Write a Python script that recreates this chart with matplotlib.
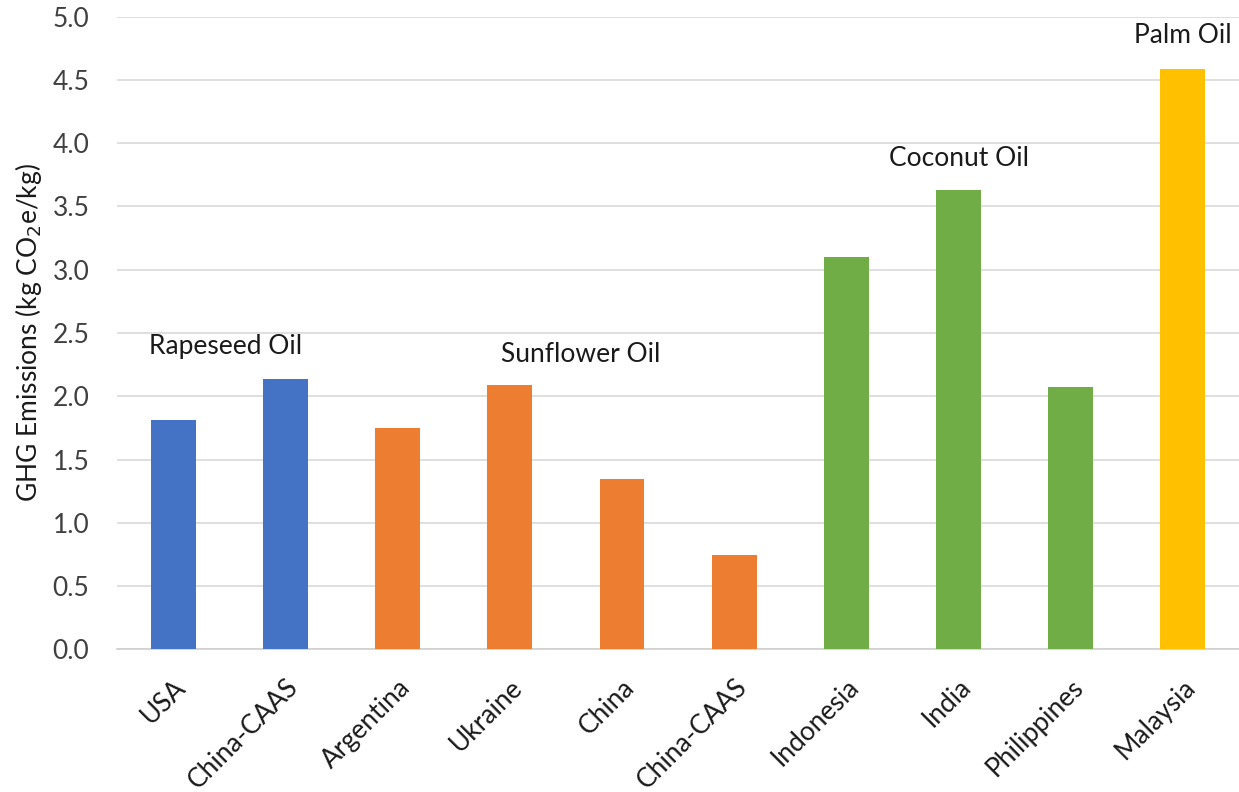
import matplotlib
matplotlib.use('Agg')
import matplotlib.pyplot as plt
import numpy as np

plt.rcParams['font.family'] = ['Lato', 'DejaVu Sans']

# Data
countries = ['USA', 'China-CAAS', 'Argentina', 'Ukraine', 'China', 'China-CAAS',
             'Indonesia', 'India', 'Philippines', 'Malaysia']
emissions = [1.81, 2.14, 1.75, 2.09, 1.35, 0.75, 3.10, 3.63, 2.07, 4.59]
oil_type = ['Rapeseed', 'Rapeseed', 'Sunflower', 'Sunflower', 'Sunflower', 'Sunflower',
            'Coconut', 'Coconut', 'Coconut', 'Palm']
oil_colors = {'Rapeseed': '#4472C4', 'Sunflower': '#ED7D31',
              'Coconut': '#70AD47', 'Palm': '#FFC000'}

group_labels = ['Rapeseed Oil', 'Sunflower Oil', 'Coconut Oil', 'Palm Oil']
group_label_x = [0.47, 3.63, 7.0, 9.0]
group_label_y = [2.39, 2.33, 3.88, 4.85]

fig = plt.figure(figsize=(12.39, 7.92), dpi=100)
ax = fig.add_axes([0.0945, 0.18, 0.9055, 0.799])

x = np.arange(len(countries))
ax.bar(x, emissions, width=0.4, color=[oil_colors[t] for t in oil_type], zorder=3)

for lab, lx, ly in zip(group_labels, group_label_x, group_label_y):
    ax.text(lx, ly, lab, ha='center', va='center', fontsize=19, color='#1a1a1a')

ax.set_xlim(-0.5, len(countries) - 0.5)
ax.set_ylim(0, 5.0)
ax.set_yticks(np.arange(0, 5.01, 0.5))
ax.set_yticklabels([f'{v:.1f}' for v in np.arange(0, 5.01, 0.5)], fontsize=19, color='#404040')
ax.set_xticks(x)
ax.set_xticklabels(countries, rotation=45, ha='right', rotation_mode='anchor',
                   fontsize=19, color='#1a1a1a')
ax.tick_params(axis='both', length=0)
ax.tick_params(axis='y', pad=20)
ax.tick_params(axis='x', pad=18)

ax.grid(axis='y', color='#D9D9D9', lw=1.2, zorder=0)
for s in ['top', 'right', 'left']:
    ax.spines[s].set_visible(False)
ax.spines['bottom'].set_color('#D0D0D0')
ax.spines['bottom'].set_linewidth(1.2)

ax.set_ylabel('GHG Emissions (kg CO$_2$e/kg)', fontsize=19, color='#1a1a1a', labelpad=6)

fig.savefig('out.png', dpi=100)
